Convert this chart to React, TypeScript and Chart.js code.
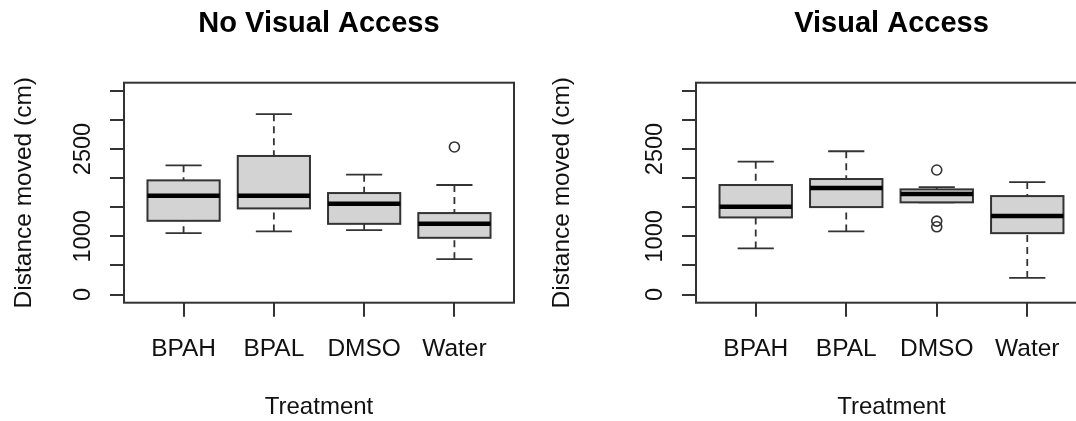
import React, { useEffect, useRef } from 'react';
import { Chart, registerables } from 'chart.js';

Chart.register(...registerables);

// ---- data ----
const categories = ['BPAH', 'BPAL', 'DMSO', 'Water'];
const yTicks = [0, 500, 1000, 1500, 2000, 2500, 3000, 3500];
const yTickLabels = ['0', '', '1000', '', '', '2500', '', ''];
const yMin = -140;
const yMax = 3640;

// No Visual Access
const nvaLow = [1055, 1085, 1107, 608];
const nvaQ1 = [1267, 1480, 1215, 975];
const nvaMedian = [1697, 1697, 1560, 1215];
const nvaQ3 = [1962, 2381, 1744, 1400];
const nvaHigh = [2221, 3099, 2059, 1882];
const nvaOutlierCat = ['Water'];
const nvaOutlierVal = [2536];

// Visual Access
const vaLow = [792, 1085, 1584, 286];
const vaQ1 = [1325, 1503, 1584, 1055];
const vaMedian = [1508, 1830, 1727, 1348];
const vaQ3 = [1882, 1985, 1807, 1692];
const vaHigh = [2283, 2462, 1847, 1933];
const vaOutlierCat = ['DMSO', 'DMSO', 'DMSO'];
const vaOutlierVal = [2140, 1262, 1164];

const FONT = "'Liberation Sans', Arial, Helvetica, sans-serif";
const LINE = '#333333';
const TEXT = '#111111';

type BoxSet = {
  low: number[];
  q1: number[];
  median: number[];
  q3: number[];
  high: number[];
  outCat: string[];
  outVal: number[];
};

const nva: BoxSet = {
  low: nvaLow, q1: nvaQ1, median: nvaMedian, q3: nvaQ3, high: nvaHigh,
  outCat: nvaOutlierCat, outVal: nvaOutlierVal,
};
const va: BoxSet = {
  low: vaLow, q1: vaQ1, median: vaMedian, q3: vaQ3, high: vaHigh,
  outCat: vaOutlierCat, outVal: vaOutlierVal,
};

function Panel(props: { title: string; box: BoxSet; left: number; width: number; yAxisWidth: number }) {
  const { title, box, left, width, yAxisWidth } = props;
  const ref = useRef<HTMLCanvasElement>(null);

  useEffect(() => {
    if (!ref.current) return;
    const boxHalf = 0.4;

    const boxPlugin = {
      id: 'boxplot',
      beforeDatasetsDraw(chart: any) {
        const { ctx, scales } = chart;
        const x = scales.x;
        const y = scales.y;
        ctx.save();
        categories.forEach((_c, i) => {
          const cx = x.getPixelForValue(i + 1);
          const hw = x.getPixelForValue(i + 1 + boxHalf) - cx;
          const sw = hw / 2;
          const pLow = y.getPixelForValue(box.low[i]);
          const pQ1 = y.getPixelForValue(box.q1[i]);
          const pMed = y.getPixelForValue(box.median[i]);
          const pQ3 = y.getPixelForValue(box.q3[i]);
          const pHigh = y.getPixelForValue(box.high[i]);
          ctx.strokeStyle = LINE;
          ctx.lineWidth = 1.8;
          // whiskers (dashed)
          ctx.setLineDash([7, 5]);
          ctx.beginPath();
          ctx.moveTo(cx, pHigh);
          ctx.lineTo(cx, pQ3);
          ctx.moveTo(cx, pLow);
          ctx.lineTo(cx, pQ1);
          ctx.stroke();
          ctx.setLineDash([]);
          // staples
          ctx.beginPath();
          ctx.moveTo(cx - sw, pHigh);
          ctx.lineTo(cx + sw, pHigh);
          ctx.moveTo(cx - sw, pLow);
          ctx.lineTo(cx + sw, pLow);
          ctx.stroke();
          // box
          ctx.fillStyle = '#D3D3D3';
          ctx.fillRect(cx - hw, pQ3, 2 * hw, pQ1 - pQ3);
          ctx.lineWidth = 2;
          ctx.strokeRect(cx - hw, pQ3, 2 * hw, pQ1 - pQ3);
          // median
          ctx.strokeStyle = '#000000';
          ctx.lineWidth = 4.5;
          ctx.beginPath();
          ctx.moveTo(cx - hw, pMed);
          ctx.lineTo(cx + hw, pMed);
          ctx.stroke();
        });
        ctx.restore();
      },
      afterDraw(chart: any) {
        const { ctx, chartArea, scales } = chart;
        const y = scales.y;
        ctx.save();
        // frame
        ctx.strokeStyle = LINE;
        ctx.lineWidth = 2;
        ctx.strokeRect(chartArea.left, chartArea.top, chartArea.right - chartArea.left, chartArea.bottom - chartArea.top);
        // rotated y tick labels
        ctx.fillStyle = TEXT;
        ctx.font = `23.5px ${FONT}`;
        ctx.textAlign = 'center';
        ctx.textBaseline = 'alphabetic';
        yTicks.forEach((v, i) => {
          const label = yTickLabels[i];
          if (!label) return;
          const py = y.getPixelForValue(v);
          ctx.save();
          ctx.translate(chartArea.left - 34, py);
          ctx.rotate(-Math.PI / 2);
          ctx.fillText(label, 0, 0);
          ctx.restore();
        });
        ctx.restore();
      },
    };

    const outliers = box.outCat.map((c, i) => ({ x: categories.indexOf(c) + 1, y: box.outVal[i] }));

    const chart = new Chart(ref.current, {
      type: 'scatter',
      data: {
        datasets: [
          {
            label: 'Outliers',
            data: outliers,
            pointRadius: 5,
            pointBorderWidth: 1.6,
            pointBorderColor: LINE,
            pointBackgroundColor: 'rgba(0,0,0,0)',
            pointStyle: 'circle',
          },
        ],
      },
      options: {
        animation: false,
        responsive: false,
        devicePixelRatio: 1,
        events: [],
        layout: { padding: { left: 0, right: 24, top: 0, bottom: 0 } },
        plugins: {
          legend: { display: false },
          tooltip: { enabled: false },
          title: {
            display: true,
            text: title,
            fullSize: false,
            color: '#000000',
            font: { family: FONT, size: 29, weight: 'bold', lineHeight: 1.2 },
            padding: { top: 6.6, bottom: 41.3 },
          },
        },
        scales: {
          x: {
            type: 'linear',
            min: 0.34,
            max: 4.66,
            afterBuildTicks: (scale: any) => {
              scale.ticks = categories.map((_c, i) => ({ value: i + 1 }));
            },
            afterFit: (scale: any) => {
              scale.height = 118.3;
            },
            ticks: {
              callback: (v: any) => categories[Math.round(Number(v)) - 1] ?? '',
              color: TEXT,
              font: { family: FONT, size: 24.5 },
              padding: 18,
              maxRotation: 0,
              minRotation: 0,
              autoSkip: false,
            },
            grid: {
              drawOnChartArea: false,
              drawTicks: true,
              tickLength: 14,
              color: LINE,
              lineWidth: 2,
            },
            border: { display: false },
            title: {
              display: true,
              text: 'Treatment',
              color: TEXT,
              font: { family: FONT, size: 24, lineHeight: 1.1 },
              padding: { top: 0, bottom: 0 },
            },
          },
          y: {
            type: 'linear',
            min: yMin,
            max: yMax,
            afterBuildTicks: (scale: any) => {
              scale.ticks = yTicks.map((v) => ({ value: v }));
            },
            afterFit: (scale: any) => {
              scale.width = yAxisWidth;
            },
            ticks: {
              display: false,
              callback: (v: any) => {
                const idx = yTicks.indexOf(Number(v));
                return idx >= 0 ? yTickLabels[idx] : '';
              },
            },
            grid: {
              drawOnChartArea: false,
              drawTicks: true,
              tickLength: 14,
              color: LINE,
              lineWidth: 2,
            },
            border: { display: false },
            title: {
              display: true,
              text: 'Distance moved (cm)',
              color: TEXT,
              font: { family: FONT, size: 24.5 },
              padding: { top: 9.8, bottom: 0 },
            },
          },
        },
      } as any,
      plugins: [boxPlugin],
    });
    return () => chart.destroy();
  }, [title, box, yAxisWidth]);

  return (
    <canvas
      ref={ref}
      width={width}
      height={421}
      style={{ position: 'absolute', left, top: 0, width, height: 421, display: 'block' }}
    />
  );
}

export default function App() {
  return (
    <div
      style={{
        position: 'fixed',
        left: 0,
        top: 0,
        width: 1076,
        height: 421,
        overflow: 'hidden',
        background: '#ffffff',
      }}
    >
      <Panel title="No Visual Access" box={nva} left={0} width={538} yAxisWidth={124} />
      <Panel title="Visual Access" box={va} left={538} width={573} yAxisWidth={158} />
    </div>
  );
}
